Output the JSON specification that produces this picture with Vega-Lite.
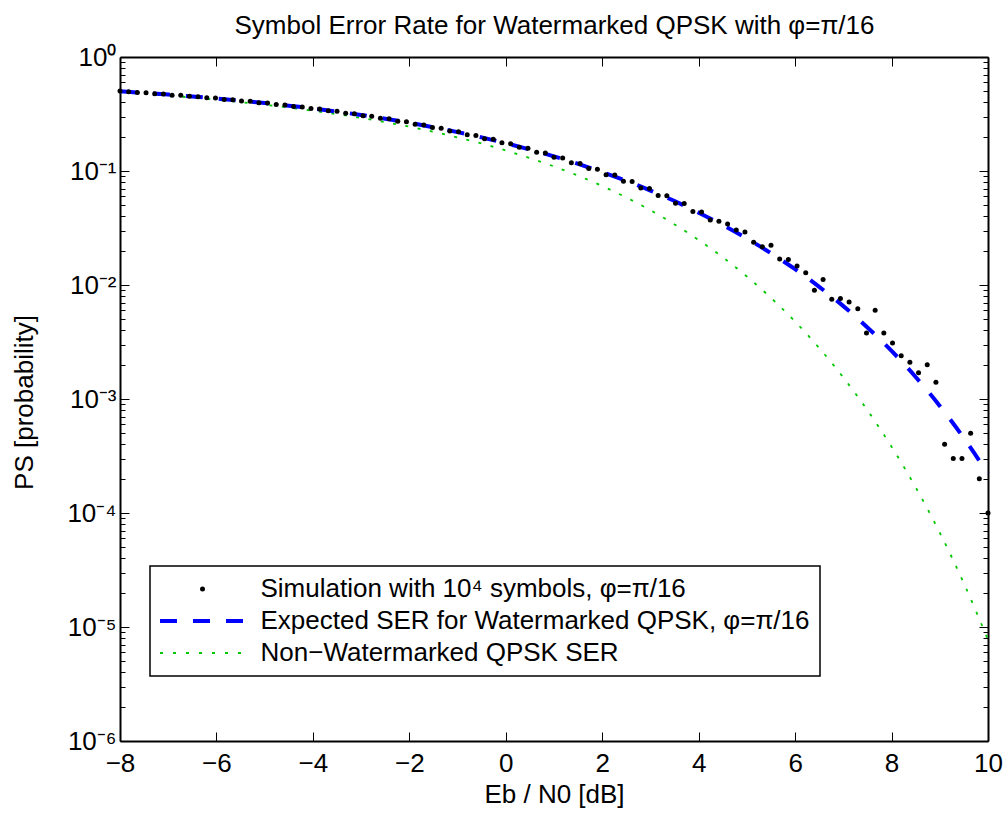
{
  "$schema": "https://vega.github.io/schema/vega-lite/v6.json",
  "width": 868,
  "height": 684,
  "autosize": {"type": "none"},
  "padding": {"left": 120, "top": 57, "right": 20, "bottom": 82},
  "background": "white",
  "config": {
    "view": {"stroke": null},
    "axis": {"domainColor": "black", "domainWidth": 2, "tickColor": "black", "tickWidth": 1, "labelFont": "Liberation Sans", "labelFontSize": 26, "labelColor": "black", "titleFont": "Liberation Sans", "titleFontSize": 26, "titleFontWeight": "normal", "titleColor": "black", "grid": false}
  },
  "datasets": {
    "sim": [
      {"x": -8, "p": 0.5021}, {"x": -7.82, "p": 0.4951}, {"x": -7.64, "p": 0.4873}, {"x": -7.46, "p": 0.4862}, {"x": -7.28, "p": 0.4752},
      {"x": -7.1, "p": 0.473}, {"x": -6.92, "p": 0.4619}, {"x": -6.74, "p": 0.4611}, {"x": -6.56, "p": 0.4517}, {"x": -6.38, "p": 0.4489},
      {"x": -6.2, "p": 0.4386}, {"x": -6.02, "p": 0.4358}, {"x": -5.84, "p": 0.4249}, {"x": -5.66, "p": 0.4221}, {"x": -5.48, "p": 0.4117},
      {"x": -5.3, "p": 0.409}, {"x": -5.12, "p": 0.3978}, {"x": -4.94, "p": 0.3947}, {"x": -4.76, "p": 0.3829}, {"x": -4.58, "p": 0.3801},
      {"x": -4.4, "p": 0.3683}, {"x": -4.22, "p": 0.3651}, {"x": -4.04, "p": 0.353}, {"x": -3.86, "p": 0.3498}, {"x": -3.68, "p": 0.3371},
      {"x": -3.5, "p": 0.3346}, {"x": -3.32, "p": 0.3215}, {"x": -3.14, "p": 0.3182}, {"x": -2.96, "p": 0.3052}, {"x": -2.78, "p": 0.3027},
      {"x": -2.6, "p": 0.2901}, {"x": -2.42, "p": 0.2866}, {"x": -2.24, "p": 0.2731}, {"x": -2.06, "p": 0.2698}, {"x": -1.88, "p": 0.2567},
      {"x": -1.7, "p": 0.2538}, {"x": -1.52, "p": 0.2409}, {"x": -1.34, "p": 0.2371}, {"x": -1.16, "p": 0.224}, {"x": -0.98, "p": 0.2205},
      {"x": -0.8, "p": 0.2081}, {"x": -0.62, "p": 0.2049}, {"x": -0.44, "p": 0.1921}, {"x": -0.26, "p": 0.1895}, {"x": -0.08, "p": 0.1766},
      {"x": 0.1, "p": 0.1737}, {"x": 0.28, "p": 0.1612}, {"x": 0.46, "p": 0.1583}, {"x": 0.64, "p": 0.1463}, {"x": 0.82, "p": 0.1442},
      {"x": 1.0, "p": 0.1321}, {"x": 1.18, "p": 0.1301}, {"x": 1.36, "p": 0.1183}, {"x": 1.54, "p": 0.1166}, {"x": 1.72, "p": 0.1052},
      {"x": 1.9, "p": 0.1038}, {"x": 2.08, "p": 0.0927}, {"x": 2.26, "p": 0.0921}, {"x": 2.44, "p": 0.0812}, {"x": 2.62, "p": 0.0808},
      {"x": 2.8, "p": 0.0708}, {"x": 2.98, "p": 0.0702}, {"x": 3.16, "p": 0.0611}, {"x": 3.34, "p": 0.0607}, {"x": 3.52, "p": 0.0521},
      {"x": 3.7, "p": 0.0518}, {"x": 3.88, "p": 0.0441}, {"x": 4.06, "p": 0.0436}, {"x": 4.24, "p": 0.0371}, {"x": 4.42, "p": 0.0362},
      {"x": 4.6, "p": 0.0343}, {"x": 4.78, "p": 0.0303}, {"x": 4.96, "p": 0.0292}, {"x": 5.14, "p": 0.0237}, {"x": 5.32, "p": 0.0217},
      {"x": 5.5, "p": 0.0223}, {"x": 5.68, "p": 0.0169}, {"x": 5.86, "p": 0.0167}, {"x": 6.04, "p": 0.0147}, {"x": 6.22, "p": 0.0128},
      {"x": 6.4, "p": 0.009}, {"x": 6.58, "p": 0.0112}, {"x": 6.76, "p": 0.0075}, {"x": 6.94, "p": 0.0076}, {"x": 7.12, "p": 0.0071},
      {"x": 7.3, "p": 0.0062}, {"x": 7.48, "p": 0.0038}, {"x": 7.66, "p": 0.006}, {"x": 7.84, "p": 0.0038}, {"x": 8.02, "p": 0.0031},
      {"x": 8.2, "p": 0.0024}, {"x": 8.38, "p": 0.0021}, {"x": 8.56, "p": 0.0017}, {"x": 8.74, "p": 0.002}, {"x": 8.92, "p": 0.0014},
      {"x": 9.1, "p": 0.0004}, {"x": 9.28, "p": 0.0003}, {"x": 9.46, "p": 0.0003}, {"x": 9.64, "p": 0.0005}, {"x": 9.82, "p": 0.0002},
      {"x": 10, "p": 0.0001}
    ],
    "wm": [
      {"x": -8, "p": 0.4999}, {"x": -7.5, "p": 0.4841}, {"x": -7, "p": 0.4679}, {"x": -6.5, "p": 0.4508}, {"x": -6, "p": 0.433},
      {"x": -5.5, "p": 0.4142}, {"x": -5, "p": 0.3948}, {"x": -4.5, "p": 0.3744}, {"x": -4, "p": 0.3535}, {"x": -3.5, "p": 0.332},
      {"x": -3, "p": 0.3098}, {"x": -2.5, "p": 0.2875}, {"x": -2, "p": 0.2647}, {"x": -1.5, "p": 0.2419}, {"x": -1, "p": 0.2192},
      {"x": -0.5, "p": 0.1972}, {"x": 0, "p": 0.1753}, {"x": 0.5, "p": 0.1543}, {"x": 1, "p": 0.1345}, {"x": 1.5, "p": 0.1154},
      {"x": 2, "p": 0.0977}, {"x": 2.5, "p": 0.0818}, {"x": 3, "p": 0.0674}, {"x": 3.5, "p": 0.0545}, {"x": 4, "p": 0.0431},
      {"x": 4.5, "p": 0.03355}, {"x": 5, "p": 0.02556}, {"x": 5.5, "p": 0.01901}, {"x": 6, "p": 0.01375}, {"x": 6.5, "p": 0.009633},
      {"x": 7, "p": 0.006528}, {"x": 7.5, "p": 0.004244}, {"x": 8, "p": 0.002646}, {"x": 8.5, "p": 0.001561}, {"x": 9, "p": 0.00087},
      {"x": 9.5, "p": 0.000454}, {"x": 10, "p": 0.000221}
    ],
    "nwm": [
      {"x": -8, "p": 0.4916}, {"x": -7.5, "p": 0.4751}, {"x": -7, "p": 0.4585}, {"x": -6.5, "p": 0.4403}, {"x": -6, "p": 0.4215},
      {"x": -5.5, "p": 0.402}, {"x": -5, "p": 0.3811}, {"x": -4.5, "p": 0.3602}, {"x": -4, "p": 0.3377}, {"x": -3.5, "p": 0.3154},
      {"x": -3, "p": 0.2919}, {"x": -2.5, "p": 0.2686}, {"x": -2, "p": 0.2447}, {"x": -1.5, "p": 0.2207}, {"x": -1, "p": 0.1972},
      {"x": -0.5, "p": 0.1741}, {"x": 0, "p": 0.1514}, {"x": 0.5, "p": 0.1297}, {"x": 1, "p": 0.1096}, {"x": 1.5, "p": 0.091},
      {"x": 2, "p": 0.0738}, {"x": 2.5, "p": 0.0585}, {"x": 3, "p": 0.0453}, {"x": 3.5, "p": 0.034}, {"x": 4, "p": 0.0248},
      {"x": 4.5, "p": 0.0175}, {"x": 5, "p": 0.01186}, {"x": 5.5, "p": 0.00771}, {"x": 6, "p": 0.004775}, {"x": 6.5, "p": 0.002798},
      {"x": 7, "p": 0.001543}, {"x": 7.5, "p": 0.000796}, {"x": 8, "p": 0.0003814}, {"x": 8.5, "p": 0.0001679}, {"x": 9, "p": 0.00006726},
      {"x": 9.5, "p": 0.00002413}, {"x": 10, "p": 0.00000774}
    ]
  },
  "layer": [
    {
      "encoding": {
        "x": {"field": "x", "type": "quantitative", "scale": {"domain": [-8, 10], "nice": false, "zero": false},
          "axis": {"orient": "bottom", "values": [-8, -6, -4, -2, 0, 2, 4, 6, 8, 10], "tickSize": -9, "labelPadding": 18, "labelFlush": false, "labelOverlap": false,
            "title": "Eb / N0  [dB]", "titleX": 434, "titleY": 61, "titleBaseline": "alphabetic"}},
        "y": {"field": "p", "type": "quantitative", "scale": {"type": "log", "domain": [0.000001, 1], "nice": false},
          "axis": {"orient": "left",
            "values": [0.000001, 0.000002, 0.000003, 0.000004, 0.000005, 0.000006, 0.000007, 0.000008, 0.000009, 0.00001, 0.00002, 0.00003, 0.00004, 0.00005, 0.00006, 0.00007, 0.00008, 0.00009, 0.0001, 0.0002, 0.0003, 0.0004, 0.0005, 0.0006, 0.0007, 0.0008, 0.0009, 0.001, 0.002, 0.003, 0.004, 0.005, 0.006, 0.007, 0.008, 0.009, 0.01, 0.02, 0.03, 0.04, 0.05, 0.06, 0.07, 0.08, 0.09, 0.1, 0.2, 0.3, 0.4, 0.5, 0.6, 0.7, 0.8, 0.9, 1],
            "tickSize": {"condition": {"test": "abs(log(datum.value)/LN10 - round(log(datum.value)/LN10)) < 1e-6", "value": -9}, "value": -5},
            "labelPadding": 13, "labelOverlap": false,
            "labelExpr": "abs(log(datum.value)/LN10 - round(log(datum.value)/LN10)) < 1e-6 ? '10' + (round(log(datum.value)/LN10) < 0 ? '⁻' : '') + ['⁰','¹','²','³','⁴','⁵','⁶'][abs(round(log(datum.value)/LN10))] : ''",
            "title": "PS [probability]", "titleX": -88, "titleY": 345, "titleBaseline": "alphabetic"}}
      },
      "layer": [
        {"data": {"name": "nwm"}, "mark": {"type": "line", "strokeWidth": 1.8, "strokeDash": [3, 9.5], "interpolate": "monotone"},
          "encoding": {"color": {"datum": "Non−Watermarked QPSK SER", "type": "nominal",
            "scale": {"domain": ["Simulation with 10⁴ symbols, φ=π/16", "Expected SER for Watermarked QPSK, φ=π/16", "Non−Watermarked QPSK SER"], "range": ["black", "#0000ff", "#00c800"]},
            "legend": {"orient": "none", "legendX": 30, "legendY": 509, "title": null, "symbolType": "stroke", "symbolSize": 676, "symbolOffset": 29.5,
              "labelFontSize": 26, "labelFont": "Liberation Sans", "labelColor": "black", "labelLimit": 1000, "labelOffset": 45, "rowPadding": 6, "padding": 10,
              "strokeColor": "black", "fillColor": "white",
              "encode": {
                "legend": {"update": {"stroke": {"value": "black"}, "strokeWidth": {"value": 1.5}, "fill": {"value": "white"}}},
                "symbols": {"update": {
                  "shape": {"signal": "datum.index == 0 ? 'circle' : 'stroke'"},
                  "size": {"signal": "datum.index == 0 ? 25 : 7225"},
                  "fill": {"signal": "datum.index == 0 ? 'black' : 'transparent'"},
                  "stroke": {"signal": "datum.index == 0 ? 'transparent' : (datum.index == 1 ? '#0000ff' : '#00c800')"},
                  "strokeWidth": {"signal": "datum.index == 0 ? 0 : (datum.index == 1 ? 4 : 1.8)"},
                  "strokeDash": {"signal": "datum.index == 1 ? [17, 16] : (datum.index == 2 ? [3, 10] : [1, 0])"},
                  "opacity": {"value": 1}
                }}
              }}}}},
        {"data": {"name": "wm"}, "mark": {"type": "line", "strokeWidth": 4, "strokeDash": [17, 16], "interpolate": "monotone"},
          "encoding": {"color": {"datum": "Expected SER for Watermarked QPSK, φ=π/16", "type": "nominal"}}},
        {"data": {"name": "sim"}, "mark": {"type": "point", "filled": true, "size": 25, "opacity": 1, "shape": "circle"},
          "encoding": {"color": {"datum": "Simulation with 10⁴ symbols, φ=π/16", "type": "nominal"}}}
      ]
    },
    {
      "data": {"name": "wm"},
      "mark": {"type": "point", "opacity": 0},
      "encoding": {
        "x": {"field": "x", "type": "quantitative", "scale": {"domain": [-8, 10], "nice": false, "zero": false},
          "axis": {"orient": "top", "values": [-8, -6, -4, -2, 0, 2, 4, 6, 8, 10], "tickSize": -9, "labels": false,
            "title": "Symbol Error Rate for Watermarked QPSK with φ=π/16", "titleX": 434, "titleY": -24, "titleBaseline": "alphabetic", "titleAlign": "center", "titleAngle": 0}},
        "y": {"field": "p", "type": "quantitative", "scale": {"type": "log", "domain": [0.000001, 1], "nice": false},
          "axis": {"orient": "right",
            "values": [0.000001, 0.000002, 0.000003, 0.000004, 0.000005, 0.000006, 0.000007, 0.000008, 0.000009, 0.00001, 0.00002, 0.00003, 0.00004, 0.00005, 0.00006, 0.00007, 0.00008, 0.00009, 0.0001, 0.0002, 0.0003, 0.0004, 0.0005, 0.0006, 0.0007, 0.0008, 0.0009, 0.001, 0.002, 0.003, 0.004, 0.005, 0.006, 0.007, 0.008, 0.009, 0.01, 0.02, 0.03, 0.04, 0.05, 0.06, 0.07, 0.08, 0.09, 0.1, 0.2, 0.3, 0.4, 0.5, 0.6, 0.7, 0.8, 0.9, 1],
            "tickSize": {"condition": {"test": "abs(log(datum.value)/LN10 - round(log(datum.value)/LN10)) < 1e-6", "value": -9}, "value": -5},
            "labels": false, "title": null}}
      }
    }
  ],
  "resolve": {"scale": {"x": "independent", "y": "independent"}, "axis": {"x": "independent", "y": "independent"}}
}
